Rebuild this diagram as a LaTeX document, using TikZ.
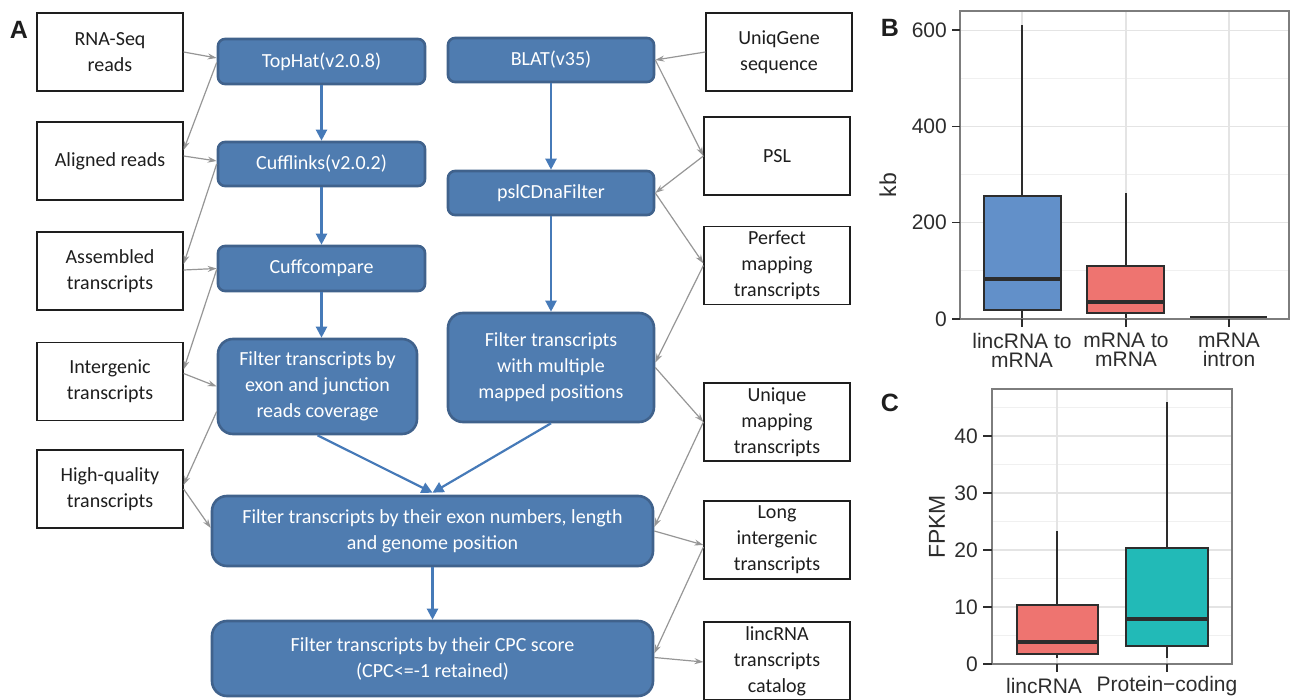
\documentclass[tikz,border=0pt]{standalone}
\usepackage{fontspec}
\setmainfont{Carlito}
\newfontfamily\plotfont{Liberation Sans}
\usetikzlibrary{arrows.meta,calc}
\definecolor{bfill}{RGB}{79,124,176}
\definecolor{bdraw}{RGB}{64,98,140}
\definecolor{barrc}{RGB}{70,122,184}
\definecolor{garrc}{RGB}{150,150,150}
\definecolor{txt}{RGB}{30,30,30}
\definecolor{pblue}{RGB}{98,144,201}
\definecolor{pred}{RGB}{238,116,112}
\definecolor{pteal}{RGB}{34,186,183}
\definecolor{pdark}{RGB}{45,45,45}
\definecolor{pframe}{RGB}{125,125,125}
\definecolor{gmaj}{RGB}{228,228,228}
\definecolor{gmin}{RGB}{240,240,240}
\begin{document}
\begin{tikzpicture}[x=1pt,y=-1pt,
  wbox/.style={draw=txt, line width=1.2pt, fill=white, minimum width=146pt, minimum height=78pt,
    align=center, font=\fontsize{20}{26}\selectfont, text=txt, inner sep=0pt},
  bbox/.style={draw=bdraw, line width=2.6pt, fill=bfill, rounded corners=7pt, align=center,
    text=white, font=\fontsize{20}{26}\selectfont, inner sep=0pt},
  fbox/.style={bbox, rounded corners=15pt},
  garr/.style={draw=garrc, line width=1.2pt, -{Stealth[length=9pt,width=6pt]}},
  barr/.style={draw=barrc, line width=2.2pt, -{Triangle[length=11pt,width=11pt]}},
  plab/.style={font=\plotfont\bfseries\fontsize{25}{25}\selectfont, text=txt, inner sep=0pt},
  tlab/.style={font=\plotfont\fontsize{21}{19}\selectfont, text=pdark, inner sep=0pt, align=center},
  alab/.style={font=\plotfont\fontsize{23}{23}\selectfont, text=pdark, inner sep=0pt},
  majg/.style={draw=gmaj, line width=1.1pt},
  ming/.style={draw=gmin, line width=0.8pt},
  bxs/.style={draw=pdark, line width=1.7pt},
  medl/.style={draw=pdark, line width=3.6pt},
  tck/.style={draw=pdark, line width=1.6pt},
]
\useasboundingbox (0,0) rectangle (1290,700);

% ---------------- Panel A ----------------
\node[plab] (labA) at (19,30) {A};

% left white boxes
\node[wbox] (rna) at (110,52) {RNA-Seq\\reads};
\node[wbox] (aligned) at (110,161) {Aligned reads};
\node[wbox] (assembled) at (110,271) {Assembled\\transcripts};
\node[wbox] (intergenic) at (110,381.5) {Intergenic\\transcripts};
\node[wbox] (hq) at (110,489) {High-quality\\transcripts};

% right white boxes
\node[wbox] (uniq) at (779,52) {UniqGene\\sequence};
\node[wbox] (psl) at (777,156) {PSL};
\node[wbox] (perfect) at (777,265.5) {Perfect\\mapping\\transcripts};
\node[wbox] (unique) at (777,422) {Unique\\mapping\\transcripts};
\node[wbox] (long) at (777,540) {Long\\intergenic\\transcripts};
\node[wbox] (catalog) at (777,661) {lincRNA\\transcripts\\catalog};

% blue boxes
\node[bbox, minimum width=207pt, minimum height=45pt] (tophat) at (321.5,61.5) {TopHat(v2.0.8)};
\node[bbox, minimum width=207pt, minimum height=44pt] (cufflinks) at (321.5,164) {Cufflinks(v2.0.2)};
\node[bbox, minimum width=207pt, minimum height=45pt] (cuffcompare) at (321.5,268.5) {Cuffcompare};
\node[fbox, minimum width=199pt, minimum height=95pt] (fexon) at (317.5,386.5) {Filter transcripts by\\exon and junction\\reads coverage};
\node[bbox, minimum width=206pt, minimum height=44pt] (blat) at (551,60) {BLAT(v35)};
\node[bbox, minimum width=206pt, minimum height=44pt] (pslf) at (551,193) {pslCDnaFilter};
\node[fbox, minimum width=206pt, minimum height=109pt] (fmulti) at (551,367.5) {Filter transcripts\\with multiple\\mapped positions};
\node[fbox, minimum width=441pt, minimum height=70pt] (fbig) at (432.5,531) {Filter transcripts by their exon numbers, length\\and genome position};
\node[fbox, minimum width=441pt, minimum height=75pt] (fcpc) at (432.5,658.5) {Filter transcripts by their CPC score\\(CPC<=-1 retained)};

% blue arrows
\draw[barr] (tophat.south) -- (cufflinks.north);
\draw[barr] (cufflinks.south) -- (cuffcompare.north);
\draw[barr] (cuffcompare.south) -- (cuffcompare.south |- fexon.north);
\draw[barr] (blat.south) -- (pslf.north);
\draw[barr] (pslf.south) -- (fmulti.north);
\draw[barr] (fexon.south) -- ($(fbig.north)+(0,-2)$);
\draw[barr] (fmulti.south) -- ($(fbig.north)+(0,-2)$);
\draw[barr] (fbig.south) -- (fcpc.north);

% gray arrows, left
\draw[garr] (rna.east) -- ($(tophat.west)+(0,-3.5)$);
\draw[garr] ($(tophat.west)+(0,1)$) -- ($(aligned.east)+(0,-11)$);
\draw[garr] ($(aligned.east)+(0,-5)$) -- ($(cufflinks.west)+(0,-3)$);
\draw[garr] (cufflinks.west) -- ($(assembled.east)+(0,-7)$);
\draw[garr] ($(assembled.east)+(0,-1)$) -- (cuffcompare.west);
\draw[garr] ($(cuffcompare.west)+(0,1)$) -- ($(intergenic.east)+(0,-12)$);
\draw[garr] ($(intergenic.east)+(0,-8)$) -- (fexon.west);
\draw[garr] ($(fexon.west)+(0,25)$) -- ($(hq.east)+(0,-4)$);
\draw[garr] (hq.east) -- ($(fbig.west)+(0,-3)$);

% gray arrows, right
\draw[garr] (uniq.west) -- (blat.east);
\draw[garr] (blat.east) -- (psl.west);
\draw[garr] (psl.west) -- (pslf.east);
\draw[garr] (pslf.east) -- ($(perfect.west)+(0,-2)$);
\draw[garr] (perfect.west) -- ($(fmulti.east)+(0,-5)$);
\draw[garr] (fmulti.east) -- (unique.west);
\draw[garr] (unique.west) -- ($(fbig.east)+(0,-4)$);
\draw[garr] (fbig.east) -- ($(long.west)+(0,5)$);
\draw[garr] ($(long.west)+(0,7)$) -- ($(fcpc.east)+(0,-5)$);
\draw[garr] ($(fcpc.east)+(0,-1)$) -- ($(catalog.west)+(0,1)$);

% ---------------- Panel B ----------------
\node[plab] (labB) at (890,28) {B};
\fill[white] (960,11) rectangle (1289,319);
\foreach \yy in {78.4,174.6,270.9} \draw[ming] (960,\yy) -- (1289,\yy);
\foreach \yy in {30.2,126.5,222.7} \draw[majg] (960,\yy) -- (1289,\yy);
\foreach \xx in {1022,1126,1229} \draw[majg] (\xx,11) -- (\xx,319);
% box 1
\draw[bxs] (1022,196) -- (1022,25);
\draw[bxs] (1022,310) -- (1022,319);
\draw[bxs, fill=pblue] (984,196) rectangle (1061,310);
\draw[medl] (984,279) -- (1061,279);
% box 2
\draw[bxs] (1126,266) -- (1126,193);
\draw[bxs] (1126,313) -- (1126,319);
\draw[bxs, fill=pred] (1087,266) rectangle (1164,313);
\draw[medl] (1087,302) -- (1164,302);
% box 3
\draw[bxs, line width=2pt] (1190,317) -- (1267,317);
\draw[draw=pframe, line width=1.3pt] (960,11) rectangle (1289,319);
\foreach \yy/\lab in {30.2/600,126.5/400,222.7/200,319/0} {
  \draw[tck] (952,\yy) -- (960,\yy);
  \node[tlab, anchor=east] at (947,\yy) {\lab};
}
\foreach \xx in {1022,1126,1229} \draw[tck] (\xx,319) -- (\xx,327);
\node[alab, rotate=90] (kb) at (888,185) {kb};
\node[tlab, anchor=north] (cb1) at (1022,333) {lincRNA to\\mRNA};
\node[tlab, anchor=north] (cb2) at (1126,333) {mRNA to\\mRNA};
\node[tlab, anchor=north] (cb3) at (1229,333) {mRNA\\intron};

% ---------------- Panel C ----------------
\node[plab] (labC) at (890,403) {C};
\fill[white] (992,389) rectangle (1232,664);
\foreach \yy in {407.5,464.5,521.5,578.5,635.5} \draw[ming] (992,\yy) -- (1232,\yy);
\foreach \yy in {436,493,550,607} \draw[majg] (992,\yy) -- (1232,\yy);
\foreach \xx in {1057,1167} \draw[majg] (\xx,389) -- (\xx,664);
% lincRNA
\draw[bxs] (1057,605) -- (1057,531);
\draw[bxs] (1057,654) -- (1057,658);
\draw[bxs, fill=pred] (1017,605) rectangle (1098,654);
\draw[medl] (1017,642) -- (1098,642);
% protein coding
\draw[bxs] (1167,548) -- (1167,402);
\draw[bxs] (1167,646) -- (1167,658);
\draw[bxs, fill=pteal] (1126,548) rectangle (1208,646);
\draw[medl] (1126,619) -- (1208,619);
\draw[draw=pframe, line width=1.3pt] (992,389) rectangle (1232,664);
\foreach \yy/\lab in {436/40,493/30,550/20,607/10,664/0} {
  \draw[tck] (983,\yy) -- (992,\yy);
  \node[tlab, anchor=east] at (978,\yy) {\lab};
}
\foreach \xx in {1057,1167} \draw[tck] (\xx,664) -- (\xx,672);
\node[alab, rotate=90] (fpkm) at (937,527) {FPKM};
\node[tlab] (cc1) at (1044,686) {lincRNA};
\node[tlab] (cc2) at (1167,686) {Protein−coding};
\end{tikzpicture}
\end{document}
